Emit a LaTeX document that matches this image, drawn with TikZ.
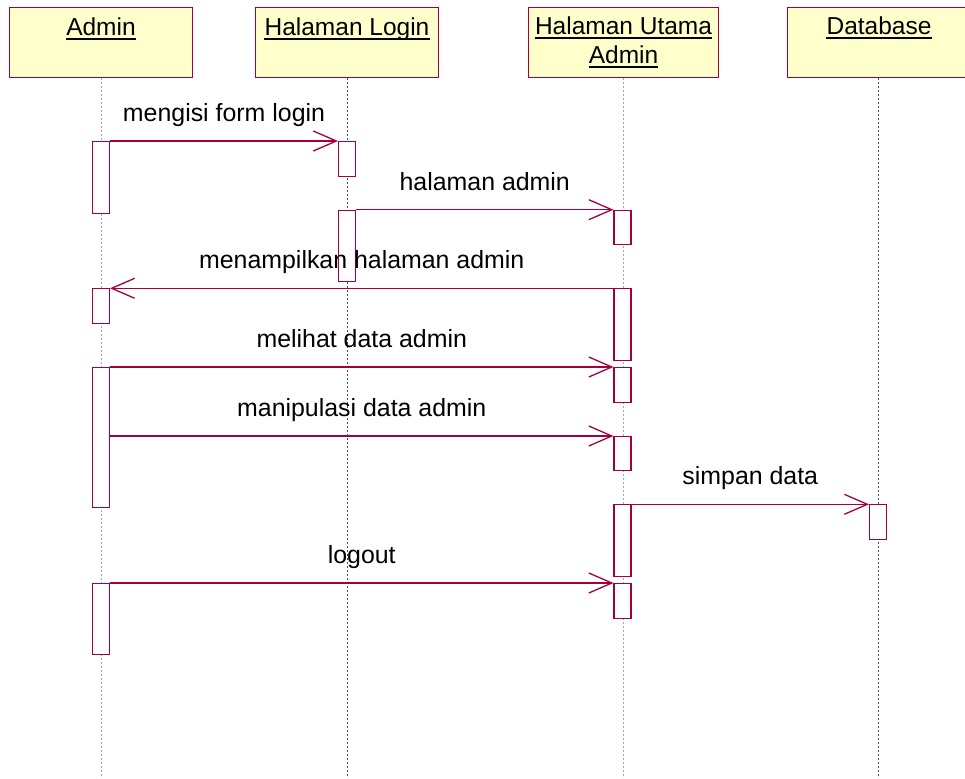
\documentclass[tikz,border=0pt]{standalone}
\usepackage{fontspec}
\setmainfont{Liberation Sans}
\usetikzlibrary{arrows.meta}
\definecolor{rose}{RGB}{165,0,62}
\definecolor{hdrfill}{RGB}{255,255,204}
\tikzset{
  hdr/.style={draw=rose, fill=hdrfill, line width=1pt, minimum height=70pt, inner sep=0pt, anchor=north west},
  htext/.style={inner sep=0pt, anchor=base, font=\fontsize{24.5}{29}\selectfont},
  ulrule/.style={line width=1.4pt},
  act/.style={draw=rose, fill=white, line width=1.1pt, minimum width=17pt, inner sep=0pt, anchor=north},
  msg/.style={draw=rose, line width=1.1pt, -{Straight Barb[length=23pt,width=20pt,line width=1.3pt]}},
  mlabel/.style={inner sep=0pt, anchor=base, yshift=19.5pt, font=\fontsize{24.9}{29}\selectfont},
  lifelight/.style={draw=black!35, dash pattern=on 2pt off 2pt, line width=0.8pt},
  lifedark/.style={draw=black!70, dash pattern=on 2pt off 2pt, line width=0.8pt}
}
\begin{document}
\begin{tikzpicture}[x=1pt,y=-1pt]
\clip (0,0) rectangle (965,778);
\fill[white] (0,0) rectangle (965,778);
% headers
\node[hdr, minimum width=183pt] (hA) at (9,7) {};
\node[hdr, minimum width=183pt] (hL) at (255,7) {};
\node[hdr, minimum width=190pt] (hU) at (527.5,7) {};
\node[hdr, minimum width=183pt] (hD) at (787,7) {};
% header texts
\node[htext] (tA) at (101,36) {Admin};
\node[htext] (tL) at (347,36) {Halaman Login};
\node[htext] (tU1) at (623.5,35) {Halaman Utama\ };
\node[htext] (tU2) at (623.5,64) {Admin};
\node[htext] (tD) at (879,35) {Database};
\foreach \t in {tA,tL,tU1,tU2,tD}{
  \draw[ulrule] ([yshift=-3.2pt]\t.base west) -- ([yshift=-3.2pt]\t.base east);
}
% lifelines
\coordinate (eA) at (101,778);
\coordinate (eL) at (347,778);
\coordinate (eU) at (623,778);
\coordinate (eD) at (878,778);
\draw[lifelight] (hA.south -| eA) -- (eA);
\draw[lifedark] (hL.south -| eL) -- (eL);
\draw[lifelight] (hU.south -| eU) -- (eU);
\draw[lifedark] (hD.south -| eD) -- (eD);
% activations
\node[act, minimum height=71.5pt] (a1) at (101,141) {};
\node[act, minimum height=35pt] (a2) at (101,288.3) {};
\node[act, minimum height=140pt] (a3) at (101,367) {};
\node[act, minimum height=71pt] (a4) at (101,583) {};
\node[act, minimum height=35pt] (l1) at (347,141) {};
\node[act, minimum height=71.5pt] (l2) at (347,209.7) {};
\node[act, minimum height=34.6pt] (u1) at (622.5,209.7) {};
\node[act, minimum height=71.7pt] (u2) at (622.5,288.3) {};
\node[act, minimum height=34.7pt] (u3) at (622.5,367) {};
\node[act, minimum height=34.3pt] (u4) at (622.5,436) {};
\node[act, minimum height=71.4pt] (u5) at (622.5,504.3) {};
\node[act, minimum height=35pt] (u6) at (622.5,583) {};
\node[act, minimum height=35pt] (d1) at (878,504.3) {};
% messages
\draw[msg] (a1.north east) -- node[mlabel] (m1) {mengisi form login} (l1.north west);
\draw[msg] (l2.north east) -- node[mlabel] (m2) {halaman admin} (u1.north west);
\draw[msg] (u2.north west) -- node[mlabel] (m3) {menampilkan halaman admin} (a2.north east);
\draw[msg] (a3.north east) -- node[mlabel] (m4) {melihat data admin} (u3.north west);
\draw[msg] (u4.north west -| a3.east) -- node[mlabel] (m5) {manipulasi data admin} (u4.north west);
\draw[msg] (u5.north east) -- node[mlabel] (m6) {simpan data} (d1.north west);
\draw[msg] (a4.north east) -- node[mlabel] (m7) {logout} (u6.north west);
\end{tikzpicture}
\end{document}
